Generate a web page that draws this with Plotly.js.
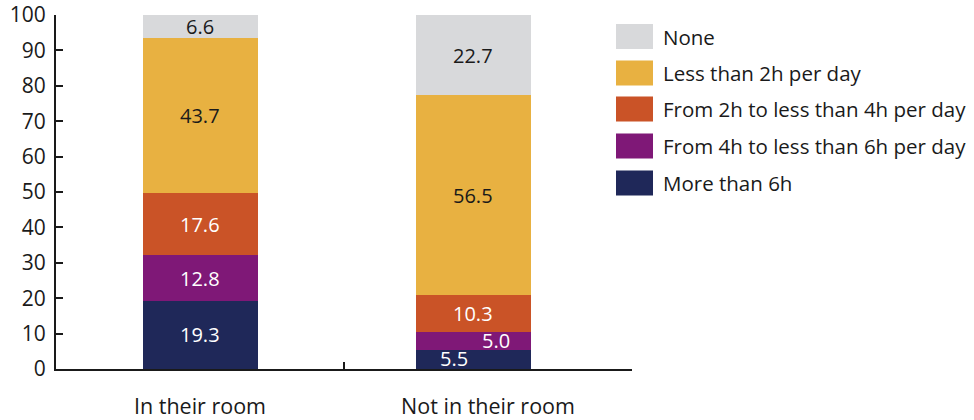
<!DOCTYPE html>
<html>
<head>
<meta charset="utf-8">
<script src="https://cdn.plot.ly/plotly-3.0.1.min.js"></script>
<style>html,body{margin:0;padding:0;background:#fff}#chart{width:974px;height:420px}</style>
</head>
<body>
<div id="chart"></div>
<script>
var categories = ["In their room", "Not in their room"];
var seriesNames = ["More than 6h", "From 4h to less than 6h per day", "From 2h to less than 4h per day", "Less than 2h per day", "None"];
var moreThan6h = [19.3, 5.5];
var from4to6h = [12.8, 5.0];
var from2to4h = [17.6, 10.3];
var lessThan2h = [43.7, 56.5];
var none = [6.6, 22.7];
var yTicks = [0, 10, 20, 30, 40, 50, 60, 70, 80, 90, 100];

var seriesValues = [moreThan6h, from4to6h, from2to4h, lessThan2h, none];
var colors = ["#1f2859", "#7f1877", "#ca5327", "#e8b141", "#d8d9db"];
var textColors = ["#ffffff", "#ffffff", "#ffffff", "#1a1a1a", "#1a1a1a"];
var FONT = "Open Sans, sans-serif";

var plotL = 56, plotR = 632, plotT = 15, plotB = 369;
var catPx = (plotR - plotL) / categories.length;
var barOffsetPx = [0, -15];           // second bar sits slightly left of its slot
var barWidthPx = 115;

var traces = seriesValues.map(function (vals, i) {
  return {
    type: "bar", x: categories, y: vals, name: seriesNames[i],
    width: barWidthPx / catPx,
    offset: barOffsetPx.map(function (o) { return (o - barWidthPx / 2) / catPx; }),
    marker: {color: colors[i], line: {width: 0}},
    hoverinfo: "skip", showlegend: false
  };
});

var annotations = [];
var xShift = [[0, -19], [0, 23], [0, 0], [0, 0], [0, 0]];
var yShift = [[0, 1], [0, 0], [0, 0], [0, 0], [0, 0]];
for (var c = 0; c < categories.length; c++) {
  var base = 0;
  for (var s = 0; s < seriesValues.length; s++) {
    var v = seriesValues[s][c];
    annotations.push({
      x: categories[c], y: base + v / 2, xref: "x", yref: "y",
      text: v.toFixed(1), showarrow: false,
      xshift: barOffsetPx[c] + xShift[s][c], yshift: yShift[s][c],
      font: {family: FONT, size: 20, color: textColors[s]}
    });
    base += v;
  }
}

// custom legend (top to bottom: None ... More than 6h)
var shapes = [];
function px2x(px) { return (px - plotL) / (plotR - plotL); }
function py2y(py) { return (plotB - py) / (plotB - plotT); }
var legendY = [36.5, 73, 109, 146, 183];
for (var k = 0; k < seriesNames.length; k++) {
  var idx = seriesNames.length - 1 - k;
  var cy = legendY[k];
  shapes.push({
    type: "rect", xref: "paper", yref: "paper",
    x0: px2x(616), x1: px2x(653), y0: py2y(cy + 12.5), y1: py2y(cy - 12.5),
    fillcolor: colors[idx], line: {width: 0}
  });
  annotations.push({
    xref: "paper", yref: "paper", x: px2x(661), y: py2y(cy),
    xanchor: "left", yanchor: "middle", showarrow: false,
    text: seriesNames[idx],
    font: {family: FONT, size: 20.5, color: "#1a1a1a"}
  });
}

var layout = {
  width: 974, height: 420,
  margin: {l: plotL, r: 974 - plotR, t: plotT, b: 420 - plotB},
  barmode: "stack",
  paper_bgcolor: "#fff", plot_bgcolor: "#fff",
  showlegend: false,
  font: {family: FONT, color: "#1a1a1a"},
  xaxis: {
    type: "category", showline: true, linecolor: "#1a1a1a", linewidth: 2,
    ticks: "inside", tickson: "boundaries", ticklen: 7, tickwidth: 2, tickcolor: "#1a1a1a",
    showgrid: false, zeroline: false,
    tickfont: {family: FONT, size: 21.5, color: "#1a1a1a"},
    ticklabelstandoff: 17, range: [-0.5, 1.5]
  },
  yaxis: {
    range: [0, 100], tickvals: yTicks, ticktext: yTicks.map(String),
    showline: true, linecolor: "#1a1a1a", linewidth: 2,
    ticks: "inside", ticklen: 7, tickwidth: 2, tickcolor: "#1a1a1a",
    showgrid: false, zeroline: false,
    tickfont: {family: FONT, size: 21, color: "#1a1a1a"},
    ticklabelstandoff: 4
  },
  annotations: annotations,
  shapes: shapes
};

Plotly.newPlot("chart", traces, layout, {displayModeBar: false, staticPlot: true});
</script>
</body>
</html>
